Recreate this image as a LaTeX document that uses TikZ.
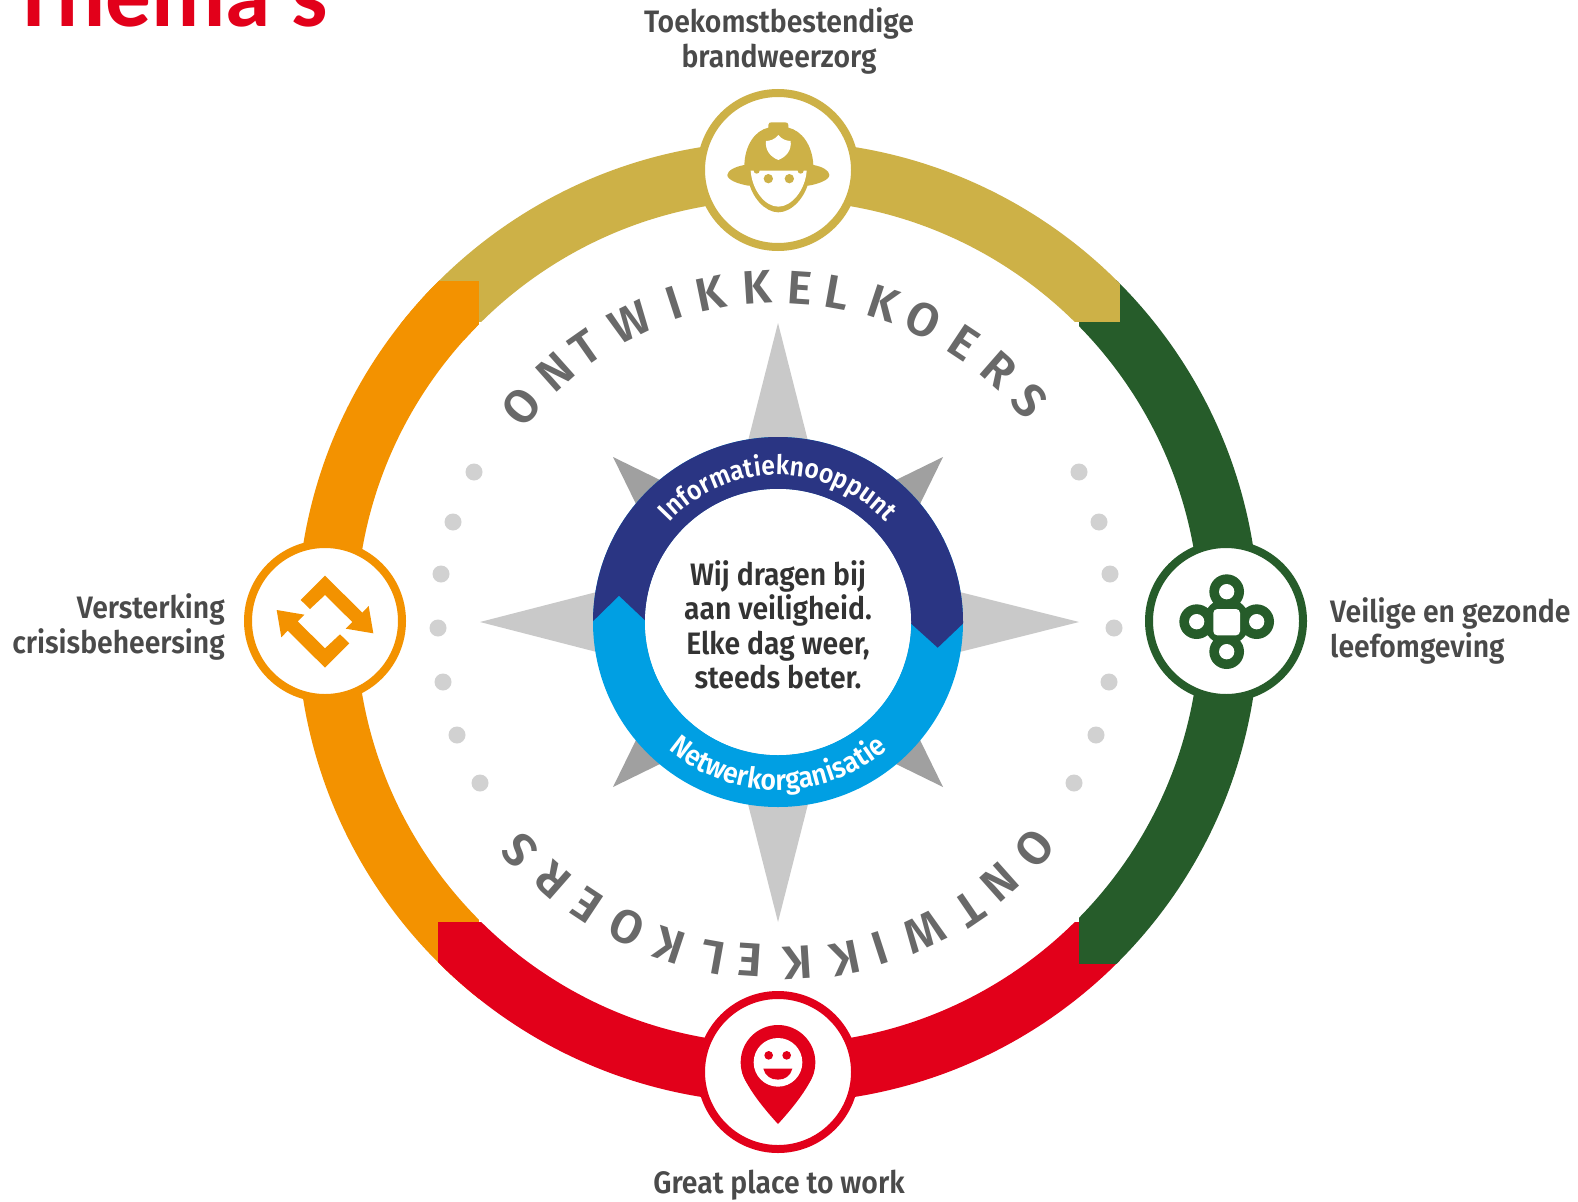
\documentclass[tikz,border=0pt]{standalone}
\usepackage{fontspec}
\setmainfont{Fira Sans}
\newfontfamily\labfont[FakeStretch=0.915]{Fira Sans SemiBold}
\newfontfamily\letfont{Fira Sans SemiBold}
\newfontfamily\titlefont{Carlito}
\usetikzlibrary{calc,decorations.text}
\definecolor{cgold}{HTML}{CDB147}
\definecolor{corange}{HTML}{F39200}
\definecolor{cgreen}{HTML}{265C2A}
\definecolor{cred}{HTML}{E2001A}
\definecolor{cnavy}{HTML}{2A3583}
\definecolor{csky}{HTML}{009FE3}
\definecolor{ctext}{HTML}{4A4A4A}
\definecolor{cmission}{HTML}{333333}
\definecolor{cletter}{HTML}{696969}
\definecolor{cgreyl}{HTML}{C9C9C9}
\definecolor{cgreyd}{HTML}{A0A0A0}
\tikzset{
 lab/.style={inner sep=0pt,text=ctext,font=\labfont\fontsize{31}{34.5}\selectfont},
 letter/.style={inner sep=0pt,text=cletter,font=\letfont\fontsize{47}{47}\selectfont},
 dotmark/.style={fill=cgreyl!85},
 badgering/.style={line width=8pt,fill=white},
 main/.style={fill=cgreyl},
 diag/.style={fill=cgreyd},
 iconscope/.style={x=0.33333pt,y=-0.33333pt}
}
\begin{document}
\begin{tikzpicture}[x=1pt,y=-1pt]
\useasboundingbox (0,0) rectangle (1578,1201);
\clip (0,0) rectangle (1578,1201);
\fill[white] (0,0) rectangle (1578,1201);
\coordinate (c) at (778,622);

% title, cut by the page edge
\node[anchor=base west,inner sep=0pt,text=cred,font=\titlefont\bfseries\fontsize{91.2}{92}\selectfont] (title) at (11.3,27) {Thema's};

% outer ring
\begin{scope}[even odd rule]
\clip (c) circle[radius=481] (c) circle[radius=422];
\fill[corange] (200,280) rectangle (479,1010);
\fill[cred] (438,922) rectangle (1120,1150);
\fill[cgreen] (1079,280) rectangle (1300,964);
\fill[cgold] (420,90) rectangle (1120,322);
\fill[corange] (400,281) rectangle (479,340);
\end{scope}

% compass star
\fill[main] (778,323) -- (733,500) -- (823,500) -- cycle;
\fill[main] (778,922) -- (733,745) -- (823,745) -- cycle;
\fill[main] (480,622) -- (655,577) -- (655,667) -- cycle;
\fill[main] (1079,622) -- (900,577) -- (900,667) -- cycle;
\fill[diag] (613,457) -- (660,480) -- (636,504) -- cycle;
\fill[diag] (943,457) -- (896,480) -- (920,504) -- cycle;
\fill[diag] (613,787) -- (660,764) -- (636,740) -- cycle;
\fill[diag] (943,787) -- (896,764) -- (920,740) -- cycle;

% central ring
\begin{scope}[even odd rule]
\clip (c) circle[radius=185] (c) circle[radius=133];
\fill[csky] (c) circle[radius=190];
\fill[cnavy] (585,629) -- (619,595.7) -- (650,625) -- (906,619) -- (937.7,647.7) -- (972,615) -- (972,420) -- (585,420) -- cycle;
\end{scope}
\fill[white] (c) circle[radius=133];

\path[decorate,decoration={text along path,text align=center,text={|\color{white}\labfont\fontsize{27}{27}\selectfont|Informatieknooppunt}}]
  ($(c)+(-145:147)$) arc[start angle=-145,end angle=-35,radius=147];
\path[decorate,decoration={text along path,text align=center,text={|\color{white}\labfont\fontsize{29}{29}\selectfont|Netwerkorganisatie}}]
  ($(c)+(-222:168)$) arc[start angle=-222,end angle=-318,radius=168];

\node[lab,text=cmission,align=center] (mission) at (778,625) {Wij dragen bij\\aan veiligheid.\\Elke dag weer,\\steeds beter.};

% ONTWIKKELKOERS, twice
\foreach \ch/\ang [count=\i] in {O/140,N/131.7,T/125,W/116.3,I/108,K/101.6,K/93.6,E/86.2,L/79.8,K/71.7,O/64.3,E/56.4,R/48.8,S/41.4}{
  \node[letter,rotate=\ang-90] (up\i) at ($(c)+(-\ang:335)$) {\ch};
}
\foreach \ch/\ang/\x/\y [count=\i] in {O/140/1035/848,N/131.7/1000/882,T/124.3/969/909,W/115.6/924/932,I/108/880/948,K/101.6/845/958,K/93.6/798/963,E/86.2/750/960,L/79.8/713/957,K/71.7/670/945,O/64.3/627/927,E/56.4/587/905,R/48.8/553/880,S/41.4/520/850}{
  \node[letter,rotate=\ang+90] (dn\i) at (\x,\y) {\ch};
}

% dots
\foreach \x/\y in {474/472,453/522,441/574,438/628,443/682,457/735,480/783,1079/472,1099/522,1110/574,1114/628,1109/682,1096/735,1074/783}
  \fill[dotmark] (\x,\y) circle[radius=8.5];

% badges
\draw[badgering,draw=cgold] (778,170) circle[radius=77];
\draw[badgering,draw=cgreen] (1226,621) circle[radius=77];
\draw[badgering,draw=corange] (325,621) circle[radius=77];
\draw[badgering,draw=cred] (778,1072) circle[radius=77];

% firefighter
\begin{scope}[shift={(680,80)},iconscope]
\fill[cgold] (142,285) .. controls (142,272) and (165,260) .. (193,255)
  .. controls (195,195) and (225,152) .. (265,143) -- (265,135) .. controls (265,128) and (270,127) .. (275,127)
  -- (315,127) .. controls (322,127) and (325,130) .. (325,135) -- (325,143)
  .. controls (365,152) and (397,195) .. (400,255) .. controls (428,260) and (448,272) .. (448,285)
  .. controls (448,300) and (415,312) .. (385,317) -- (205,317) .. controls (175,312) and (142,300) .. (142,285) -- cycle;
\fill[cgold] (205,300) .. controls (215,352) and (255,397) .. (295,397) .. controls (335,397) and (377,352) .. (387,300) -- cycle;
\fill[white] (295,165) .. controls (305,178) and (320,183) .. (332,183) .. controls (335,210) and (320,230) .. (295,240)
  .. controls (270,230) and (255,210) .. (258,183) .. controls (270,183) and (285,178) .. cycle;
\fill[white] (212,272) -- (380,272) .. controls (376,330) and (335,380) .. (295,380) .. controls (255,380) and (216,330) .. (212,272) -- cycle;
\fill[cgold] (230,272) circle[radius=9] (362,272) circle[radius=9];
\fill[cgold] (265,296) circle[radius=14] (328,296) circle[radius=14];
\end{scope}

% network
\begin{scope}[shift={(1120,530)},iconscope]
\fill[cgreen] (320,275) circle[radius=70] (320,185) circle[radius=52] (410,275) circle[radius=52] (320,365) circle[radius=52] (230,275) circle[radius=52];
\fill[white] (320,185) circle[radius=23] (410,275) circle[radius=23] (320,365) circle[radius=23] (230,275) circle[radius=23];
\fill[white,rounded corners=4pt] (280,237) -- (360,237) -- (360,316) -- (280,316) -- cycle;
\end{scope}

% arrows
\begin{scope}[shift={(230,530)},iconscope]
\fill[corange] (240,237) -- (212,210) -- (285,137) -- (397,248) -- (416,228) -- (430,310) -- (347,296) -- (367,276) -- (285,195) -- cycle;
\fill[corange] (330,313) -- (358,340) -- (285,413) -- (173,302) -- (154,322) -- (140,240) -- (223,254) -- (203,274) -- (285,355) -- cycle;
\end{scope}

% pin
\begin{scope}[shift={(680,975)},iconscope]
\fill[cred] (294,262) circle[radius=112];
\fill[cred] (186,290) .. controls (200,340) and (260,410) .. (294,447) .. controls (328,410) and (388,340) .. (402,290) -- cycle;
\fill[white] (294,262) circle[radius=73];
\fill[cred] (266,241) circle[radius=13] (320,241) circle[radius=13];
\fill[cred] (250,281) -- (337,281) .. controls (332,302) and (315,314) .. (294,314) .. controls (272,314) and (255,302) .. (250,281) -- cycle;
\end{scope}

% labels
\node[lab,align=center] (lblTop) at (779,41) {Toekomstbestendige\\brandweerzorg};
\node[lab] (lblBottom) at (779,1185) {Great place to work};
\node[lab,align=right,anchor=east] (lblLeft) at (225,627) {Versterking\\crisisbeheersing};
\node[lab,align=left,anchor=west] (lblRight) at (1330,631) {Veilige en gezonde\\leefomgeving};
\end{tikzpicture}
\end{document}
